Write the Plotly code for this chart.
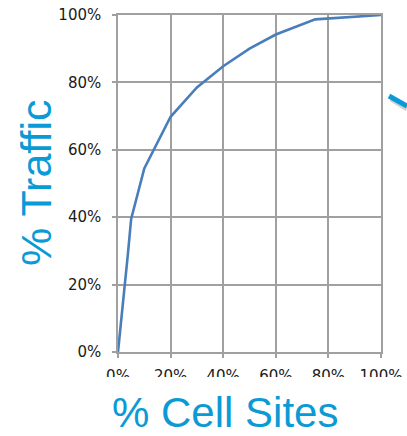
import plotly.graph_objects as go

# Cumulative share of traffic carried by the busiest cell sites
cell_sites_pct = [0, 2.5, 3.75, 5, 10, 20, 30, 40, 50, 60, 75, 100]
traffic_pct = [0, 18, 29, 39.5, 54.5, 69.8, 78.5, 84.8, 90, 94.2, 98.7, 100]

tick_vals = [0, 20, 40, 60, 80, 100]
tick_text = ["0%", "20%", "40%", "60%", "80%", "100%"]

x_title = "% Cell Sites"
y_title = "% Traffic"

TITLE_BLUE = "#0a9ad6"
GRID = "#a0a0a0"

# Plot-area geometry in pixels
L, R, T, B = 118, 381, 15, 352
W, H = R - L, B - T


def px_x(p):
    return (p - L) / W


def px_y(p):
    return (B - p) / H


fig = go.Figure()
fig.add_trace(go.Scatter(
    x=cell_sites_pct, y=traffic_pct, mode="lines",
    line=dict(color="#4a7ebb", width=2.6),
    cliponaxis=False, hoverinfo="skip", showlegend=False,
))

axis_common = dict(
    range=[0, 100], tickvals=tick_vals, ticktext=tick_text,
    showgrid=True, gridcolor=GRID, gridwidth=1.5,
    showline=True, linecolor=GRID, linewidth=1.5, mirror=True,
    ticks="outside", ticklen=4, tickcolor=GRID, tickwidth=1.5,
    zeroline=False, fixedrange=True, automargin=False,
    tickfont=dict(family="DejaVu Sans", size=15, color="#1a1a1a"),
)
fig.update_xaxes(**axis_common, ticklabelstandoff=5)
fig.update_yaxes(**axis_common, ticklabelstandoff=8)

fig.add_annotation(
    text=x_title, xref="paper", yref="paper", x=px_x(225), y=px_y(412),
    showarrow=False, xanchor="center", yanchor="middle",
    font=dict(family="Liberation Sans", size=42, color=TITLE_BLUE),
)
fig.add_annotation(
    text=y_title, xref="paper", yref="paper", x=px_x(36), y=px_y(183),
    showarrow=False, textangle=-90, xanchor="center", yanchor="middle",
    font=dict(family="Liberation Sans", size=43, color=TITLE_BLUE),
)

# Lower halves of the x tick labels are masked out
fig.add_shape(
    type="rect", xref="paper", yref="paper", layer="above",
    x0=px_x(95), x1=px_x(407), y0=px_y(377), y1=px_y(392),
    fillcolor="white", line=dict(width=0),
)

# Tail of a pointer arrow entering from the right edge
fig.add_shape(
    type="line", xref="paper", yref="paper", layer="above",
    x0=px_x(391), y0=px_y(99), x1=px_x(407), y1=px_y(109),
    line=dict(color="rgba(120,120,120,0.35)", width=5),
)
fig.add_shape(
    type="line", xref="paper", yref="paper", layer="above",
    x0=px_x(389), y0=px_y(96), x1=px_x(407), y1=px_y(106),
    line=dict(color=TITLE_BLUE, width=5),
)

fig.update_layout(
    width=407, height=436,
    margin=dict(l=L, r=407 - R, t=T, b=436 - B),
    paper_bgcolor="white", plot_bgcolor="white",
    showlegend=False,
)

fig.write_html("out.html", config={"displayModeBar": False})
